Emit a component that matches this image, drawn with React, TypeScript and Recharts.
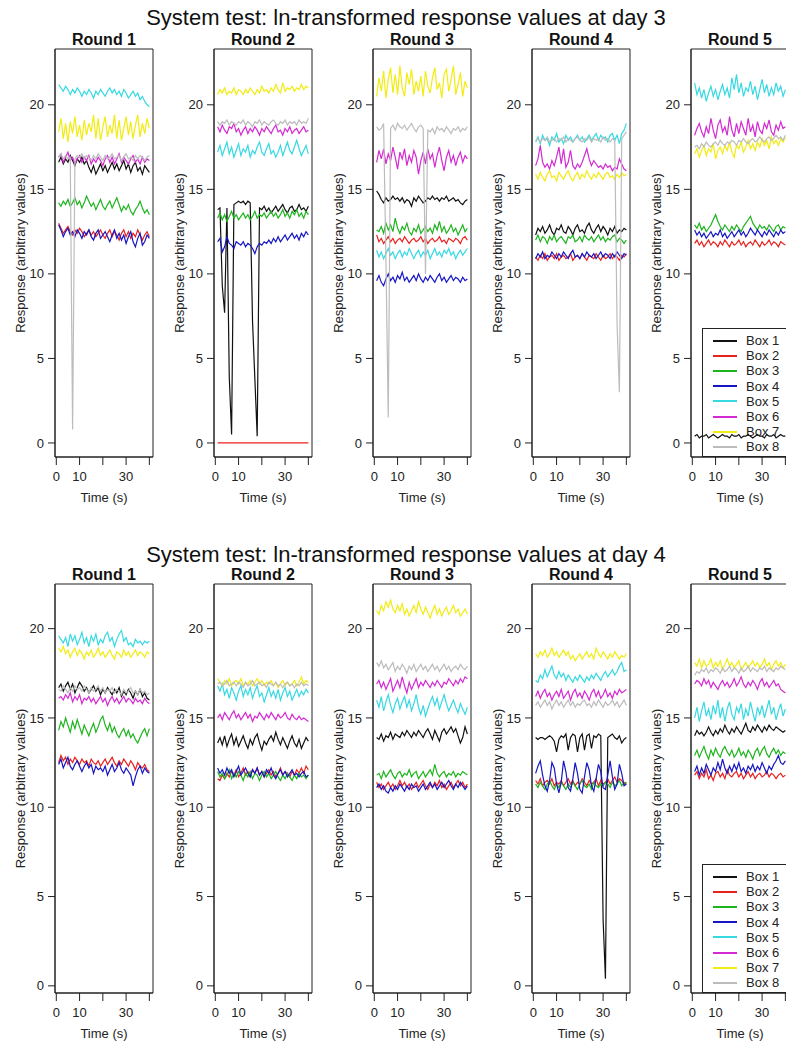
import { LineChart, Line, XAxis, YAxis, Legend, ReferenceArea } from 'recharts';

// time axis (s) and labels
const seconds = [1, 2, 3, 4, 5, 6, 7, 8, 9, 10, 11, 12, 13, 14, 15, 16, 17, 18, 19, 20, 21, 22, 23, 24, 25, 26, 27, 28, 29, 30, 31, 32, 33, 34, 35, 36, 37, 38, 39, 40];
const boxes = ['Box 1', 'Box 2', 'Box 3', 'Box 4', 'Box 5', 'Box 6', 'Box 7', 'Box 8'];
const rounds = ['Round 1', 'Round 2', 'Round 3', 'Round 4', 'Round 5'];
const timeTicks = [0, 10, 20, 30, 40];
const responseTicks = [0, 5, 10, 15, 20];

// day 3, one row per box
const day3Round1 = [
  [16.6, 16.9, 16.5, 16.8, 16.6, 17.0, 16.7, 16.4, 16.8, 16.6, 16.9, 16.5, 16.7, 16.3, 16.0, 16.4, 15.9, 16.2, 16.5, 16.1, 16.4, 16.0, 16.3, 16.6, 16.2, 16.5, 16.1, 16.4, 16.7, 16.2, 16.5, 16.0, 16.4, 16.6, 16.1, 16.3, 15.9, 16.4, 16.2, 16.0],
  [13.0, 12.7, 12.4, 12.6, 12.8, 12.5, 12.3, 12.6, 12.4, 12.7, 12.5, 12.2, 12.4, 12.6, 12.3, 12.5, 12.2, 12.4, 12.6, 12.3, 12.1, 12.4, 12.6, 12.2, 12.5, 12.3, 12.0, 12.4, 12.6, 12.2, 12.5, 12.1, 12.4, 12.2, 12.6, 12.3, 12.0, 12.3, 12.5, 12.2],
  [14.2, 14.0, 14.3, 14.1, 14.4, 14.0, 14.2, 14.5, 14.1, 14.3, 13.9, 14.2, 14.6, 14.3, 14.0, 14.2, 13.8, 14.1, 14.4, 14.0, 13.8, 14.1, 14.3, 13.9, 14.2, 14.5, 14.1, 13.7, 14.0, 13.8, 14.1, 13.7, 13.5, 13.8, 14.0, 14.3, 13.9, 13.6, 13.8, 13.5],
  [12.9, 12.6, 12.2, 12.5, 12.7, 12.3, 12.5, 12.2, 12.6, 12.4, 12.1, 12.5, 12.3, 12.6, 12.2, 12.0, 12.4, 12.6, 12.1, 12.3, 12.5, 12.2, 11.9, 12.3, 12.6, 12.1, 12.4, 12.0, 12.3, 11.8, 12.2, 12.5, 11.9, 11.6, 12.1, 12.4, 11.7, 11.9, 12.3, 12.1],
  [21.2, 21.0, 20.8, 21.1, 20.9, 20.6, 20.9, 20.7, 21.0, 20.8, 20.5, 20.8, 20.6, 20.9, 20.7, 20.4, 20.8, 20.6, 20.9, 20.7, 20.5, 20.8, 21.0, 20.7, 20.9, 20.6, 20.8, 20.5, 20.9, 20.7, 20.4, 20.6, 20.8, 20.5, 20.7, 20.3, 20.5, 20.2, 20.0, 19.9],
  [16.9, 17.1, 16.6, 16.9, 17.2, 16.7, 16.9, 16.5, 16.8, 17.0, 16.6, 16.9, 16.7, 17.0, 16.5, 16.8, 16.6, 16.9, 16.7, 16.4, 16.8, 17.0, 16.6, 16.9, 16.5, 16.8, 17.1, 16.6, 16.9, 16.7, 16.5, 16.8, 17.0, 16.6, 16.8, 16.5, 16.9, 16.6, 16.8, 16.7],
  [18.4, 19.2, 18.0, 18.9, 17.8, 19.0, 18.3, 19.3, 18.1, 18.8, 17.9, 19.1, 18.2, 18.9, 18.4, 19.4, 18.0, 19.2, 17.9, 18.7, 19.3, 18.1, 18.8, 18.3, 19.4, 18.0, 19.1, 17.9, 18.6, 19.3, 18.2, 19.0, 18.0, 18.8, 19.4, 18.1, 18.9, 18.3, 19.2, 18.6],
  [16.9, 17.1, 16.8, 17.0, 16.8, 16.9, 0.8, 16.8, 17.0, 16.9, 17.1, 16.8, 17.0, 16.9, 16.7, 17.0, 16.8, 17.1, 16.9, 16.7, 17.0, 16.8, 16.9, 17.1, 16.8, 16.9, 17.0, 16.7, 16.9, 17.1, 16.8, 16.9, 16.7, 17.0, 16.8, 17.0, 16.9, 16.7, 16.9, 17.0],
];
const day3Round2 = [
  [13.8, 13.9, 9.3, 7.7, 13.9, 3.9, 0.5, 14.1, 14.2, 14.3, 14.2, 14.3, 14.1, 14.3, 14.2, 7.2, 3.8, 0.4, 13.9, 13.8, 14.0, 13.7, 13.9, 13.6, 13.8, 14.0, 13.7, 13.9, 14.1, 13.8, 13.6, 13.9, 14.0, 13.7, 13.8, 14.1, 13.8, 13.9, 13.7, 14.0],
  [0, 0, 0, 0, 0, 0, 0, 0, 0, 0, 0, 0, 0, 0, 0, 0, 0, 0, 0, 0, 0, 0, 0, 0, 0, 0, 0, 0, 0, 0, 0, 0, 0, 0, 0, 0, 0, 0, 0, 0],
  [13.3, 13.6, 13.2, 13.5, 13.1, 13.4, 13.7, 13.3, 13.5, 13.2, 13.4, 13.6, 13.3, 13.5, 13.2, 13.4, 13.7, 13.3, 13.5, 13.4, 13.6, 13.3, 13.5, 13.7, 13.4, 13.6, 13.3, 13.5, 13.8, 13.4, 13.6, 13.3, 13.7, 13.5, 13.8, 13.4, 13.6, 13.3, 13.7, 13.5],
  [11.9, 12.1, 11.3, 11.6, 12.2, 11.8, 11.7, 11.5, 11.9, 11.8, 11.7, 11.9, 11.6, 11.8, 11.7, 11.5, 11.2, 11.6, 11.8, 11.7, 11.9, 11.8, 12.0, 11.8, 12.1, 11.9, 12.2, 11.9, 12.1, 12.3, 12.0, 12.2, 12.4, 12.1, 12.3, 12.0, 12.4, 12.2, 12.5, 12.3],
  [17.2, 17.6, 17.0, 17.4, 17.8, 17.1, 17.5, 16.9, 17.3, 17.7, 17.0, 17.4, 17.2, 17.6, 16.9, 17.3, 17.1, 17.5, 17.8, 17.2, 17.0, 17.4, 17.7, 17.1, 17.3, 16.9, 17.2, 17.6, 17.0, 17.4, 17.8, 17.3, 17.1, 17.5, 17.9, 17.4, 17.0, 17.3, 17.6, 17.1],
  [18.7, 18.4, 18.8, 18.5, 18.3, 18.7, 18.6, 18.9, 18.4, 18.6, 18.2, 18.5, 18.7, 18.3, 18.6, 18.4, 18.7, 18.5, 18.2, 18.6, 18.4, 18.7, 18.5, 18.3, 18.6, 18.8, 18.4, 18.5, 18.2, 18.6, 18.4, 18.7, 18.3, 18.5, 18.6, 18.3, 18.5, 18.7, 18.4, 18.5],
  [20.6, 20.9, 20.7, 21.0, 20.6, 20.8, 20.7, 21.0, 20.6, 20.9, 20.8, 20.6, 20.9, 20.7, 21.0, 20.8, 20.6, 20.9, 20.7, 21.1, 20.8, 20.9, 20.7, 21.0, 20.8, 21.2, 20.9, 20.7, 21.3, 20.8, 21.0, 20.9, 21.1, 20.8, 21.0, 20.9, 21.2, 20.9, 21.1, 21.0],
  [19.0, 18.8, 19.0, 18.9, 19.1, 18.8, 19.0, 18.9, 18.8, 19.0, 18.9, 19.1, 18.8, 19.0, 18.9, 18.7, 19.0, 18.9, 19.1, 18.8, 19.0, 18.9, 18.8, 19.0, 19.1, 18.9, 18.8, 19.0, 18.9, 19.1, 18.8, 19.0, 18.9, 19.0, 18.8, 19.1, 18.9, 19.0, 18.9, 19.2],
];
const day3Round3 = [
  [14.9, 14.7, 14.4, 14.2, 14.5, 14.3, 14.4, 14.6, 14.4, 14.5, 14.3, 14.5, 14.2, 14.4, 14.3, 14.0, 14.5, 14.3, 14.6, 14.4, 14.2, 14.3, 14.5, 14.4, 14.6, 14.4, 14.5, 14.3, 14.5, 14.4, 14.6, 14.3, 14.4, 14.5, 14.3, 14.4, 14.2, 14.1, 14.3, 14.4],
  [12.3, 11.9, 12.1, 11.8, 12.0, 12.2, 11.9, 12.1, 11.8, 12.0, 12.1, 11.9, 12.2, 12.0, 11.8, 12.0, 12.1, 11.9, 12.0, 12.2, 11.9, 12.1, 11.8, 12.0, 12.1, 11.9, 12.0, 12.2, 11.9, 12.0, 11.8, 12.1, 12.0, 11.9, 12.1, 12.0, 11.8, 12.1, 12.2, 12.0],
  [12.6, 12.5, 12.8, 12.4, 13.0, 12.6, 12.9, 12.5, 13.3, 12.7, 12.4, 12.8, 12.6, 13.0, 12.5, 12.3, 12.7, 12.5, 12.9, 12.4, 12.6, 12.8, 12.5, 12.7, 12.4, 12.9, 12.6, 13.1, 12.5, 12.8, 12.4, 12.6, 12.9, 12.5, 12.7, 12.3, 12.6, 12.9, 12.5, 12.7],
  [9.6, 9.9, 9.5, 9.3, 9.7, 10.0, 9.6, 9.8, 9.5, 9.9, 9.7, 10.1, 9.6, 9.8, 9.5, 9.7, 9.9, 9.6, 10.0, 9.7, 9.5, 9.8, 9.6, 9.9, 9.7, 9.5, 9.8, 10.0, 9.6, 9.8, 9.5, 9.7, 9.9, 9.6, 9.8, 9.7, 9.5, 9.8, 9.6, 9.7],
  [11.4, 11.0, 11.3, 10.9, 11.2, 11.5, 11.1, 11.3, 10.9, 11.2, 11.4, 11.0, 11.3, 11.1, 11.5, 11.2, 10.9, 11.2, 11.4, 11.0, 11.3, 11.1, 11.4, 10.9, 11.2, 11.5, 11.1, 11.3, 11.0, 11.4, 11.2, 11.5, 11.1, 11.3, 10.9, 11.2, 11.4, 11.1, 11.3, 11.5],
  [16.6, 17.3, 16.8, 17.4, 16.5, 17.1, 16.7, 17.5, 16.9, 16.2, 17.2, 16.8, 17.4, 16.4, 17.0, 16.6, 17.3, 16.9, 15.9, 16.7, 17.2, 16.5, 17.4, 16.8, 17.1, 16.3, 17.0, 17.5, 16.7, 16.1, 16.9, 17.3, 16.6, 17.0, 16.4, 16.9, 17.2, 16.6, 17.0, 16.8],
  [20.5, 21.6, 20.8, 22.0, 20.4, 21.5, 22.2, 20.7, 21.8, 20.6, 22.3, 21.0, 20.5, 21.9, 21.2, 22.1, 20.6, 21.4, 20.8, 21.7, 20.5, 22.0, 21.1, 20.7, 21.6, 22.2, 20.9, 21.3, 20.4, 21.8, 22.1, 20.8, 21.5, 22.3, 20.6, 21.2, 21.9, 20.5, 21.4, 21.0],
  [18.7, 18.5, 18.6, 18.9, 10.8, 1.5, 18.6, 18.8, 18.5, 18.9, 18.7, 18.6, 18.8, 18.5, 18.7, 18.9, 18.6, 18.4, 18.7, 18.8, 18.6, 10.0, 18.5, 18.4, 18.6, 18.3, 18.7, 18.5, 18.6, 18.4, 18.7, 18.5, 18.3, 18.6, 18.5, 18.7, 18.4, 18.6, 18.5, 18.7],
];
const day3Round4 = [
  [12.3, 12.7, 12.5, 12.8, 12.4, 12.6, 12.9, 12.5, 12.3, 12.7, 12.6, 12.9, 12.5, 12.4, 12.8, 12.6, 12.3, 12.7, 12.9, 12.5, 12.6, 12.4, 12.8, 13.0, 12.6, 12.4, 12.7, 12.9, 12.5, 12.8, 12.6, 12.3, 12.7, 12.5, 12.8, 12.4, 12.6, 12.5, 12.7, 12.6],
  [11.0, 10.8, 11.1, 10.9, 11.2, 10.8, 11.0, 11.1, 10.9, 11.2, 10.8, 11.0, 11.1, 10.9, 11.0, 11.2, 10.8, 11.0, 11.1, 10.9, 11.2, 11.0, 10.8, 11.1, 11.0, 10.9, 11.2, 11.0, 10.8, 11.1, 10.9, 11.0, 11.2, 10.9, 11.1, 11.0, 10.8, 11.1, 11.0, 11.2],
  [12.0, 12.3, 11.9, 12.2, 12.1, 11.8, 12.2, 12.0, 12.3, 11.9, 12.1, 12.2, 12.0, 11.8, 12.2, 12.1, 12.3, 11.9, 12.0, 12.2, 11.9, 12.3, 12.1, 12.0, 12.2, 11.9, 12.1, 12.3, 12.0, 12.2, 11.9, 12.1, 12.0, 12.2, 12.3, 11.9, 12.1, 12.0, 11.8, 12.0],
  [10.9, 11.2, 11.0, 11.3, 10.9, 11.1, 11.0, 11.3, 11.1, 10.9, 11.2, 11.0, 11.3, 11.1, 10.9, 11.2, 11.4, 11.0, 11.1, 10.9, 11.2, 11.0, 11.3, 11.1, 11.0, 11.2, 10.9, 11.1, 11.3, 11.0, 11.2, 11.1, 10.9, 11.2, 11.0, 11.3, 11.1, 10.9, 11.2, 11.1],
  [17.8, 18.1, 17.7, 18.2, 17.9, 18.0, 17.6, 18.1, 17.9, 18.3, 17.8, 18.0, 17.7, 18.2, 17.9, 18.1, 17.8, 18.0, 18.2, 17.9, 18.1, 17.8, 18.0, 18.2, 17.9, 18.1, 18.3, 17.9, 18.2, 18.0, 18.1, 17.8, 18.2, 18.3, 17.9, 18.2, 17.7, 18.3, 18.5, 18.9],
  [16.4, 16.8, 17.6, 16.6, 16.3, 16.5, 16.2, 16.7, 16.4, 16.9, 17.5, 16.5, 17.4, 16.3, 16.6, 17.3, 16.4, 16.2, 16.5, 16.3, 16.6, 17.0, 17.4, 16.8, 16.4, 16.7, 16.5, 16.3, 16.4, 16.2, 16.5, 16.3, 16.4, 16.1, 16.3, 16.2, 16.8, 16.5, 16.2, 16.1],
  [15.9, 15.6, 16.0, 15.7, 15.5, 15.9, 16.1, 15.7, 15.8, 15.5, 16.0, 15.8, 15.6, 15.9, 16.1, 15.7, 15.5, 15.8, 16.0, 15.6, 15.9, 15.7, 16.1, 15.8, 15.6, 15.9, 15.7, 16.0, 15.8, 15.6, 15.9, 16.0, 15.7, 15.8, 15.6, 15.9, 15.7, 16.0, 15.8, 15.9],
  [17.9, 18.0, 17.8, 18.0, 17.9, 18.1, 17.8, 17.9, 18.0, 17.8, 18.0, 17.9, 18.1, 17.8, 18.0, 17.9, 17.8, 18.0, 18.1, 17.9, 17.8, 18.0, 17.9, 18.1, 17.8, 18.0, 17.9, 18.0, 17.8, 18.1, 17.9, 18.0, 17.8, 18.0, 17.9, 7.0, 3.0, 18.0, 18.2, 18.4],
];
const day3Round5 = [
  [0.4, 0.5, 0.3, 0.4, 0.4, 0.5, 0.3, 0.4, 0.5, 0.4, 0.3, 0.4, 0.5, 0.4, 0.4, 0.3, 0.5, 0.4, 0.4, 0.5, 0.3, 0.4, 0.4, 0.5, 0.4, 0.3, 0.4, 0.5, 0.4, 0.4, 0.3, 0.5, 0.4, 0.4, 0.5, 0.3, 0.4, 0.5, 0.4, 0.4],
  [11.8, 12.0, 11.7, 11.9, 11.6, 11.8, 12.0, 11.7, 11.9, 11.8, 11.6, 11.9, 11.7, 12.0, 11.8, 11.6, 11.9, 11.7, 11.8, 12.0, 11.7, 11.9, 11.6, 11.8, 11.9, 11.7, 12.0, 11.8, 11.6, 11.9, 11.7, 11.8, 12.0, 11.7, 11.9, 11.8, 11.6, 11.9, 11.8, 11.7],
  [12.9, 12.7, 13.0, 12.6, 12.8, 12.5, 12.7, 12.9, 13.2, 13.5, 13.1, 12.8, 12.6, 12.9, 12.7, 12.5, 12.8, 12.6, 12.9, 12.7, 12.5, 12.8, 13.0, 13.2, 13.4, 13.0, 12.8, 12.6, 12.9, 12.7, 12.8, 12.6, 12.9, 12.7, 12.5, 12.8, 12.9, 12.6, 12.8, 12.7],
  [12.6, 12.3, 12.5, 12.2, 12.4, 12.1, 12.3, 12.5, 12.2, 12.4, 12.3, 12.6, 12.2, 12.4, 12.1, 12.3, 12.5, 12.2, 12.4, 12.6, 12.3, 12.5, 12.2, 12.4, 12.7, 12.5, 12.3, 12.6, 12.4, 12.2, 12.5, 12.3, 12.6, 12.4, 12.2, 12.5, 12.3, 12.6, 12.4, 12.5],
  [21.3, 20.6, 21.0, 20.4, 20.9, 20.2, 20.7, 21.1, 20.5, 20.9, 20.3, 20.8, 21.2, 20.6, 21.0, 20.4, 21.6, 20.9, 21.8, 20.7, 21.3, 20.5, 21.0, 20.8, 21.4, 20.6, 21.1, 20.3, 20.9, 21.5, 20.7, 21.2, 20.5, 21.0, 20.6, 21.3, 20.8, 21.1, 20.5, 20.9],
  [18.2, 18.6, 18.9, 18.4, 18.1, 18.7, 18.3, 19.2, 18.5, 18.0, 18.8, 19.1, 18.4, 18.7, 18.2, 19.3, 18.5, 18.1, 18.9, 18.3, 19.0, 18.6, 18.2, 19.2, 18.4, 18.8, 18.1, 19.0, 18.5, 18.3, 18.9, 18.6, 19.1, 18.4, 18.2, 18.8, 18.5, 19.0, 18.6, 18.7],
  [17.1, 17.4, 16.9, 17.3, 17.6, 17.0, 17.4, 17.2, 17.7, 16.8, 17.3, 17.5, 17.1, 17.6, 17.3, 17.8, 17.2, 16.9, 17.6, 17.4, 17.8, 17.2, 17.5, 17.9, 17.4, 17.7, 17.3, 17.8, 17.5, 18.0, 17.6, 17.9, 17.4, 18.1, 17.7, 17.9, 17.6, 18.0, 17.8, 18.1],
  [17.5, 17.6, 17.4, 17.7, 17.5, 17.8, 17.6, 17.5, 17.7, 17.8, 17.6, 17.9, 17.7, 17.6, 17.8, 17.7, 17.9, 17.8, 17.6, 17.9, 17.8, 18.0, 17.8, 17.7, 17.9, 18.0, 17.8, 17.9, 18.1, 17.9, 17.8, 18.0, 18.1, 17.9, 18.0, 18.2, 18.0, 18.1, 17.9, 18.2],
];

// day 4, one row per box
const day4Round1 = [
  [16.7, 16.9, 16.5, 16.8, 17.0, 16.6, 16.9, 16.4, 16.7, 17.0, 16.8, 16.5, 16.7, 16.4, 16.6, 16.8, 16.5, 16.7, 16.3, 16.6, 16.4, 16.7, 16.5, 16.3, 16.6, 16.4, 16.7, 16.2, 16.5, 16.3, 16.6, 16.4, 16.1, 16.5, 16.3, 16.6, 16.2, 16.4, 16.1, 16.0],
  [12.5, 12.9, 12.6, 12.8, 12.4, 12.7, 12.5, 12.8, 12.6, 12.4, 12.7, 12.5, 12.6, 12.3, 12.7, 12.5, 12.4, 12.6, 12.3, 12.5, 12.7, 12.4, 12.6, 12.8, 12.5, 12.3, 12.6, 12.4, 12.7, 12.5, 12.3, 12.6, 12.4, 12.1, 12.5, 12.3, 12.2, 12.4, 12.1, 12.0],
  [14.3, 14.8, 14.5, 15.0, 14.6, 14.2, 14.8, 14.4, 14.9, 14.5, 14.1, 14.6, 14.3, 14.0, 14.4, 14.7, 14.2, 14.5, 14.9, 15.1, 14.6, 14.3, 14.7, 14.2, 14.5, 14.1, 13.9, 14.2, 14.4, 14.0, 14.3, 13.9, 14.1, 13.8, 13.6, 13.9, 14.2, 14.4, 14.0, 14.4],
  [12.4, 12.7, 12.2, 12.5, 12.8, 12.3, 12.1, 12.4, 12.6, 12.3, 12.0, 12.3, 12.5, 12.2, 12.4, 11.9, 12.3, 12.1, 12.2, 12.0, 12.3, 11.8, 12.1, 12.4, 12.0, 12.2, 12.5, 12.1, 11.9, 12.2, 12.0, 11.8, 11.2, 11.7, 12.1, 12.3, 11.9, 12.2, 12.0, 11.9],
  [19.6, 19.4, 19.2, 19.5, 19.0, 19.7, 19.3, 19.6, 19.1, 19.4, 19.8, 19.2, 19.5, 19.0, 19.6, 19.3, 19.7, 19.1, 19.4, 19.2, 19.6, 19.8, 19.3, 19.5, 19.0, 19.4, 19.7, 19.9, 19.3, 19.5, 19.1, 19.2, 19.0, 19.4, 19.2, 19.3, 19.1, 19.3, 19.2, 19.3],
  [16.1, 16.2, 16.0, 16.3, 16.1, 16.4, 15.9, 16.2, 16.0, 16.3, 15.8, 16.1, 16.0, 16.2, 15.9, 16.1, 15.8, 16.0, 16.2, 15.9, 16.1, 15.7, 16.0, 16.2, 15.9, 16.1, 15.8, 16.0, 16.2, 15.9, 16.1, 16.0, 15.8, 16.1, 15.9, 16.0, 15.8, 16.1, 15.9, 15.8],
  [18.9, 18.7, 19.0, 18.6, 18.8, 18.4, 18.7, 18.9, 18.5, 18.8, 18.6, 18.3, 18.7, 18.5, 18.8, 18.4, 18.6, 18.9, 18.5, 18.7, 18.4, 18.6, 18.8, 18.5, 18.3, 18.7, 18.6, 18.4, 18.8, 18.5, 18.7, 18.4, 18.6, 18.8, 18.5, 18.7, 18.6, 18.4, 18.7, 18.6],
  [16.6, 16.5, 16.8, 16.6, 16.4, 16.7, 16.5, 16.8, 16.6, 16.7, 16.5, 16.8, 16.6, 16.4, 16.7, 16.5, 16.6, 16.8, 16.5, 16.7, 16.4, 16.6, 16.5, 16.7, 16.4, 16.6, 16.5, 16.3, 16.6, 16.4, 16.5, 16.7, 16.4, 16.5, 16.3, 16.6, 16.4, 16.5, 16.3, 16.4],
];
const day4Round2 = [
  [13.6, 13.9, 13.5, 14.0, 13.4, 13.8, 14.1, 13.5, 13.9, 13.4, 13.7, 14.0, 13.6, 13.3, 13.8, 13.5, 13.9, 14.1, 13.6, 13.2, 13.7, 13.5, 13.8, 14.0, 13.7, 14.2, 13.8, 13.5, 13.9, 13.6, 13.3, 13.7, 14.0, 13.6, 13.4, 13.8, 13.3, 13.6, 13.9, 13.7],
  [11.6, 11.5, 11.8, 11.6, 11.9, 11.7, 12.0, 11.8, 12.1, 11.7, 11.9, 12.2, 11.8, 12.0, 11.7, 12.1, 11.9, 12.2, 11.8, 12.0, 11.7, 11.9, 12.1, 11.8, 12.0, 11.7, 11.9, 12.2, 11.8, 12.0, 11.9, 11.7, 12.0, 11.8, 12.1, 11.9, 12.2, 11.9, 12.3, 12.1],
  [12.0, 11.7, 11.9, 11.6, 11.8, 12.1, 11.6, 11.9, 11.7, 12.0, 11.8, 11.5, 11.9, 11.7, 12.0, 11.6, 11.9, 11.8, 11.5, 11.8, 12.0, 11.7, 11.9, 11.6, 11.8, 12.0, 11.7, 11.5, 11.8, 11.6, 11.9, 11.7, 11.5, 11.8, 11.6, 11.9, 11.7, 11.8, 11.6, 11.8],
  [12.2, 11.9, 12.1, 11.8, 12.2, 11.9, 12.1, 11.7, 12.0, 12.3, 11.8, 12.0, 12.2, 11.9, 11.7, 12.1, 11.9, 12.2, 11.8, 12.0, 11.7, 12.1, 11.9, 12.2, 11.8, 11.6, 11.9, 12.1, 11.8, 12.0, 11.7, 11.9, 12.1, 11.8, 11.9, 11.7, 11.9, 12.0, 11.7, 11.8],
  [16.8, 16.5, 16.9, 16.3, 16.6, 16.1, 16.7, 16.4, 16.0, 16.5, 16.8, 16.2, 16.6, 16.3, 16.7, 16.1, 16.5, 16.8, 16.2, 16.4, 15.9, 16.3, 16.7, 16.2, 16.5, 16.1, 16.6, 16.0, 16.4, 16.7, 16.2, 16.5, 16.0, 16.3, 16.6, 16.2, 16.5, 16.3, 16.6, 16.4],
  [15.0, 15.2, 14.9, 15.3, 15.1, 14.9, 15.2, 15.4, 15.0, 15.2, 14.9, 15.1, 15.3, 15.0, 15.2, 14.8, 15.1, 15.0, 15.3, 15.1, 14.9, 15.2, 15.0, 15.3, 15.1, 14.9, 15.2, 15.0, 15.1, 15.3, 15.0, 14.9, 15.2, 15.0, 14.9, 15.1, 14.9, 15.0, 14.9, 14.8],
  [17.2, 17.0, 16.8, 17.1, 16.9, 17.2, 16.8, 17.0, 17.1, 16.9, 17.2, 16.8, 17.0, 16.9, 17.1, 16.8, 17.0, 17.2, 16.9, 17.1, 16.8, 17.0, 16.9, 17.1, 16.8, 17.0, 16.7, 16.9, 17.1, 16.8, 17.0, 16.8, 16.9, 17.1, 16.8, 17.0, 17.3, 16.9, 17.1, 17.0],
  [16.9, 17.0, 16.8, 16.9, 17.1, 16.8, 16.9, 17.0, 16.8, 17.0, 16.9, 16.7, 17.0, 16.8, 16.9, 17.1, 16.8, 16.9, 17.0, 16.8, 16.9, 16.7, 17.0, 16.9, 16.8, 17.0, 16.8, 16.9, 16.7, 16.9, 17.0, 16.8, 16.9, 16.7, 16.9, 16.8, 17.0, 16.8, 16.9, 16.8],
];
const day4Round3 = [
  [13.9, 13.8, 14.1, 13.7, 14.0, 13.9, 14.2, 13.8, 14.1, 14.0, 13.9, 14.2, 14.0, 14.3, 14.1, 13.9, 14.2, 14.0, 14.3, 14.1, 13.9, 14.2, 14.4, 14.1, 13.8, 14.3, 14.0, 13.7, 14.2, 14.4, 14.1, 14.3, 14.5, 14.2, 14.4, 14.0, 13.6, 13.9, 14.5, 14.1],
  [11.4, 11.1, 11.3, 11.0, 11.2, 11.4, 11.1, 11.3, 11.0, 11.2, 11.5, 11.2, 11.4, 11.1, 11.3, 11.0, 11.2, 11.4, 11.1, 11.3, 11.5, 11.2, 11.0, 11.3, 11.1, 11.4, 11.2, 11.5, 11.1, 11.3, 11.0, 11.2, 11.4, 11.1, 11.3, 11.5, 11.2, 11.4, 11.1, 11.3],
  [11.8, 11.9, 11.6, 12.0, 11.7, 11.9, 12.1, 11.8, 11.6, 11.9, 12.0, 11.7, 11.9, 11.8, 12.1, 11.7, 11.9, 12.0, 11.6, 11.8, 12.0, 11.7, 11.9, 12.1, 11.8, 12.4, 11.9, 11.7, 11.9, 12.0, 11.7, 11.9, 11.8, 12.0, 11.7, 11.9, 11.8, 12.0, 11.9, 11.8],
  [11.1, 11.3, 11.0, 11.2, 10.9, 10.8, 11.1, 10.9, 11.2, 11.0, 11.3, 11.1, 10.9, 11.2, 11.0, 11.3, 11.1, 11.2, 10.9, 11.1, 11.3, 11.0, 11.2, 11.4, 11.1, 11.3, 11.0, 11.2, 11.4, 11.1, 11.3, 11.5, 11.2, 11.0, 11.3, 11.1, 11.4, 11.2, 11.0, 11.2],
  [16.0, 15.6, 16.2, 15.4, 15.9, 16.3, 15.7, 15.3, 15.8, 16.1, 15.5, 15.9, 16.2, 15.6, 16.0, 15.4, 15.8, 16.3, 15.6, 15.2, 15.7, 15.1, 15.5, 15.9, 16.2, 15.7, 16.1, 15.5, 15.9, 16.3, 15.8, 15.4, 15.7, 16.0, 15.6, 15.3, 15.8, 15.5, 15.2, 15.6],
  [16.9, 17.1, 16.7, 17.0, 16.6, 16.9, 17.2, 16.5, 16.8, 17.1, 16.7, 17.3, 16.8, 16.4, 17.0, 16.6, 16.9, 17.2, 16.7, 17.0, 16.8, 17.1, 16.9, 16.7, 17.0, 16.8, 17.1, 16.9, 16.7, 17.0, 16.9, 17.2, 17.0, 16.8, 17.1, 16.9, 17.2, 17.0, 17.3, 17.2],
  [21.0, 20.8, 21.3, 21.0, 21.5, 21.2, 21.6, 21.1, 20.9, 21.3, 21.0, 21.4, 20.8, 21.1, 20.7, 21.0, 21.3, 20.9, 21.5, 21.1, 20.8, 21.2, 20.9, 20.6, 21.0, 21.3, 20.8, 21.1, 20.7, 21.0, 21.2, 20.8, 21.0, 21.3, 20.9, 21.1, 20.7, 20.9, 21.1, 20.8],
  [18.1, 17.9, 18.2, 17.8, 18.0, 17.7, 17.9, 18.1, 17.6, 17.9, 17.7, 18.0, 17.8, 17.5, 17.9, 17.7, 18.0, 17.6, 17.8, 18.0, 17.7, 17.9, 17.6, 17.8, 18.0, 17.7, 17.9, 17.6, 17.8, 18.0, 17.7, 17.9, 17.6, 17.8, 17.9, 17.7, 18.0, 17.8, 17.7, 17.9],
];
const day4Round4 = [
  [13.9, 13.8, 13.9, 13.9, 13.8, 13.9, 14.0, 13.9, 13.7, 13.1, 13.8, 14.0, 13.9, 14.1, 13.2, 13.9, 14.1, 14.0, 13.1, 13.9, 14.1, 13.2, 14.0, 14.1, 13.3, 14.0, 13.9, 14.1, 14.0, 3.7, 0.4, 13.9, 14.0, 14.1, 13.9, 13.8, 14.0, 13.6, 13.8, 13.9],
  [11.5, 11.3, 11.6, 11.2, 11.4, 11.5, 11.3, 11.6, 11.2, 11.4, 11.3, 11.5, 11.2, 11.4, 11.6, 11.3, 11.5, 11.2, 11.4, 11.3, 11.6, 11.4, 11.2, 11.5, 11.3, 11.4, 11.6, 11.2, 11.5, 11.3, 11.4, 11.6, 11.3, 11.5, 11.7, 11.4, 11.6, 11.5, 11.3, 11.4],
  [11.3, 11.1, 11.4, 11.2, 11.0, 11.3, 11.5, 11.2, 11.0, 11.3, 11.1, 11.4, 11.2, 11.0, 11.3, 11.1, 11.4, 11.2, 11.0, 11.3, 11.5, 11.2, 11.1, 11.3, 11.0, 11.4, 11.2, 11.1, 11.3, 11.2, 11.4, 11.3, 11.1, 11.4, 11.2, 11.3, 11.5, 11.2, 11.4, 11.3],
  [11.9, 12.3, 12.6, 11.8, 11.2, 10.9, 11.5, 12.5, 12.2, 11.3, 10.8, 11.4, 12.6, 12.0, 11.1, 10.9, 11.6, 12.5, 11.9, 11.0, 10.8, 11.7, 12.5, 12.1, 11.2, 10.9, 11.6, 12.4, 12.0, 11.1, 11.0, 11.8, 12.6, 11.7, 11.0, 11.3, 12.4, 11.9, 11.2, 11.3],
  [17.1, 17.0, 17.4, 17.2, 17.7, 17.3, 17.6, 17.9, 17.4, 17.2, 17.6, 17.3, 17.5, 17.1, 17.4, 17.2, 17.0, 17.3, 17.1, 17.4, 17.2, 17.0, 17.3, 17.1, 17.4, 17.2, 17.5, 17.3, 17.1, 17.4, 17.6, 17.3, 17.5, 17.7, 17.4, 17.6, 17.9, 18.1, 17.6, 17.7],
  [16.2, 16.5, 16.1, 16.4, 16.6, 16.2, 16.4, 16.0, 16.3, 16.5, 16.2, 16.6, 16.1, 16.3, 16.5, 16.0, 16.4, 16.6, 16.2, 16.4, 16.1, 16.5, 16.3, 16.0, 16.4, 16.6, 16.2, 16.5, 16.1, 16.3, 16.6, 16.2, 16.4, 16.1, 16.5, 16.3, 16.6, 16.4, 16.5, 16.6],
  [18.6, 18.4, 18.7, 18.5, 18.8, 18.4, 18.6, 18.9, 18.5, 18.7, 18.4, 18.6, 18.8, 18.5, 18.7, 18.3, 18.5, 18.2, 18.4, 18.6, 18.3, 18.5, 18.7, 18.4, 18.6, 18.3, 18.9, 18.6, 18.4, 18.7, 18.5, 18.3, 18.6, 18.4, 18.7, 18.5, 18.3, 18.5, 18.4, 18.6],
  [15.7, 15.9, 15.6, 15.8, 16.0, 15.7, 15.9, 15.5, 15.8, 16.0, 15.7, 15.9, 15.6, 15.8, 16.0, 15.7, 15.9, 15.6, 15.8, 15.7, 15.9, 16.0, 15.7, 15.8, 15.6, 15.9, 15.7, 16.0, 15.8, 15.6, 15.9, 15.7, 15.8, 16.0, 15.7, 15.9, 15.6, 15.8, 16.0, 15.7],
];
const day4Round5 = [
  [14.0, 14.3, 14.1, 14.2, 14.0, 14.2, 14.5, 14.2, 14.0, 14.3, 14.1, 14.4, 14.2, 14.6, 14.3, 14.1, 14.4, 14.2, 14.5, 14.3, 14.1, 14.4, 14.7, 14.3, 14.2, 14.5, 14.3, 14.6, 14.4, 14.2, 14.5, 14.3, 14.6, 14.4, 14.3, 14.5, 14.4, 14.3, 14.2, 14.3],
  [11.8, 12.0, 11.6, 11.9, 11.7, 12.1, 11.6, 11.8, 11.5, 11.9, 12.0, 11.7, 11.9, 11.6, 12.1, 11.8, 11.7, 11.9, 12.0, 11.7, 11.9, 11.6, 11.8, 12.0, 11.7, 11.9, 11.6, 11.8, 11.9, 11.7, 11.8, 12.0, 11.7, 11.9, 11.8, 11.6, 11.8, 11.9, 11.7, 11.8],
  [12.9, 13.2, 12.8, 13.1, 13.4, 13.0, 12.7, 13.2, 12.9, 13.3, 13.0, 12.8, 13.2, 13.4, 13.1, 12.9, 13.2, 12.8, 13.0, 13.3, 12.9, 13.1, 12.8, 13.2, 13.0, 12.7, 13.1, 13.3, 12.9, 13.2, 13.4, 13.0, 12.8, 13.1, 13.3, 13.0, 13.2, 12.9, 13.1, 13.0],
  [12.0, 12.3, 11.8, 12.2, 11.9, 12.4, 12.1, 11.8, 12.2, 12.0, 12.5, 12.1, 12.7, 12.2, 11.9, 12.3, 12.0, 12.4, 12.1, 12.5, 12.0, 12.2, 11.9, 12.3, 12.1, 12.4, 12.0, 12.3, 12.1, 12.5, 12.2, 11.9, 12.3, 12.1, 12.4, 12.6, 12.9, 12.5, 12.4, 12.6],
  [15.0, 15.6, 14.8, 15.4, 15.9, 15.1, 15.5, 14.9, 15.7, 15.2, 16.0, 15.0, 15.6, 14.8, 15.5, 15.9, 15.2, 14.9, 15.6, 15.3, 15.8, 14.9, 15.5, 15.1, 15.9, 15.3, 14.8, 15.6, 15.2, 15.7, 15.0, 15.5, 16.0, 15.2, 15.6, 14.9, 15.4, 15.8, 15.1, 15.5],
  [16.9, 17.1, 17.0, 16.8, 17.2, 16.9, 17.1, 16.7, 17.0, 16.8, 16.6, 16.9, 17.1, 16.8, 17.0, 16.7, 16.9, 17.2, 16.8, 17.0, 17.3, 16.9, 16.7, 17.0, 16.8, 17.1, 16.9, 16.6, 17.0, 17.2, 16.8, 17.0, 16.7, 16.9, 17.1, 16.8, 16.9, 16.6, 16.5, 16.4],
  [18.1, 17.9, 18.3, 17.8, 18.2, 17.9, 18.0, 18.3, 17.8, 18.1, 17.9, 18.2, 17.7, 18.0, 18.3, 17.9, 18.1, 17.8, 18.0, 18.2, 17.7, 17.9, 18.1, 17.8, 18.0, 18.2, 17.9, 18.1, 17.8, 18.0, 18.3, 17.9, 18.1, 17.7, 18.0, 18.2, 17.9, 18.1, 17.8, 18.0],
  [17.4, 17.6, 17.5, 17.7, 17.6, 17.8, 17.5, 17.7, 17.6, 17.8, 17.7, 17.5, 17.8, 17.6, 17.7, 17.9, 17.6, 17.8, 17.7, 17.5, 17.8, 17.6, 17.7, 17.9, 17.6, 17.8, 17.7, 17.6, 17.8, 17.7, 17.9, 17.6, 17.8, 17.7, 17.6, 17.8, 17.7, 17.9, 17.8, 17.7],
];

const day3Panels = [day3Round1, day3Round2, day3Round3, day3Round4, day3Round5];
const day4Panels = [day4Round1, day4Round2, day4Round3, day4Round4, day4Round5];

// R's default palette, one colour per box
const boxColors = ['#111111', '#e8221e', '#1db41d', '#1616c4', '#36d9e2', '#d42ad2', '#f2ec12', '#bcbcbc'];

const FONT = '"Liberation Sans", Arial, Helvetica, sans-serif';
const INK = '#222222';
const AXIS_W = 55;
const PLOT_W = 98;
const RIGHT_PAD = 6;
const COL_STEP = 159;
const X_AXIS_H = 50;
const TIME_DOMAIN: [number, number] = [-0.56, 41.56];

function ResponseLabel(props: any) {
  const vb = props.viewBox || { x: 0, y: 0, width: AXIS_W, height: 400 };
  const cx = vb.x + 20;
  const cy = vb.y + vb.height / 2;
  return (
    <text
      x={cx}
      y={cy}
      transform={`rotate(-90 ${cx} ${cy})`}
      textAnchor="middle"
      dominantBaseline="central"
      fill={INK}
      fontSize={13}
      fontFamily={FONT}
    >
      Response (arbitrary values)
    </text>
  );
}

function BoxLegend({ payload }: any) {
  return (
    <div
      style={{
        boxSizing: 'border-box',
        width: '100%',
        height: '100%',
        border: `1px solid ${INK}`,
        paddingTop: 4,
        fontFamily: FONT,
        fontSize: 13,
        color: INK,
      }}
    >
      {(payload || []).map((entry: any) => (
        <div key={entry.value} style={{ display: 'flex', alignItems: 'center', height: 15.2 }}>
          <span style={{ width: 24, marginLeft: 10, marginRight: 9, borderTop: `2px solid ${entry.color}` }} />
          <span style={{ lineHeight: '15px' }}>{entry.value}</span>
        </div>
      ))}
    </div>
  );
}

type PanelProps = {
  series: number[][];
  title: string;
  col: number;
  boxTop: number;
  boxBottom: number;
  yDomain: [number, number];
  withLegend: boolean;
};

function Panel({ series, title, col, boxTop, boxBottom, yDomain, withLegend }: PanelProps) {
  const rows = seconds.map((t, i) => {
    const row: Record<string, number> = { t };
    series.forEach((s, j) => {
      row[boxes[j]] = s[i];
    });
    return row;
  });
  const left = col * COL_STEP;
  const plotH = boxBottom - boxTop;
  const legendTop = plotH - 127;

  return (
    <>
      <div
        style={{
          position: 'absolute',
          left: left + AXIS_W,
          top: boxTop - 18,
          width: PLOT_W,
          textAlign: 'center',
          fontFamily: FONT,
          fontWeight: 'bold',
          fontSize: 16,
          lineHeight: '18px',
          color: '#111',
        }}
      >
        {title}
      </div>
      <div style={{ position: 'absolute', left, top: boxTop - 2 }}>
        <LineChart
          width={AXIS_W + PLOT_W + RIGHT_PAD}
          height={plotH + 2 + X_AXIS_H}
          data={rows}
          margin={{ top: 2, right: RIGHT_PAD, bottom: 0, left: 0 }}
        >
          <XAxis
            dataKey="t"
            type="number"
            domain={TIME_DOMAIN}
            allowDataOverflow
            ticks={timeTicks}
            interval={0}
            tickFormatter={(v: number) => (v === 20 || v === 40 ? '' : String(v))}
            tickSize={8}
            tickMargin={7}
            height={X_AXIS_H}
            axisLine={{ stroke: INK }}
            tickLine={{ stroke: INK }}
            tick={{ fill: INK, fontSize: 13, fontFamily: FONT }}
            label={{ value: 'Time (s)', position: 'insideBottom', offset: 5, fill: INK, fontSize: 13, fontFamily: FONT }}
          />
          <YAxis
            type="number"
            domain={yDomain}
            allowDataOverflow
            ticks={responseTicks}
            interval={0}
            width={AXIS_W}
            tickSize={7}
            tickMargin={4}
            axisLine={{ stroke: INK }}
            tickLine={{ stroke: INK }}
            tick={{ fill: INK, fontSize: 13, fontFamily: FONT }}
            label={<ResponseLabel />}
          />
          {/* frame around the plotting region */}
          <ReferenceArea
            x1={TIME_DOMAIN[0]}
            x2={TIME_DOMAIN[1]}
            y1={yDomain[0]}
            y2={yDomain[1]}
            ifOverflow="visible"
            fill="none"
            fillOpacity={0}
            stroke={INK}
            strokeWidth={1}
          />
          {series.map((_, j) => (
            <Line
              key={boxes[j]}
              type="linear"
              dataKey={boxes[j]}
              name={boxes[j]}
              stroke={boxColors[j]}
              strokeWidth={1.2}
              dot={false}
              isAnimationActive={false}
            />
          ))}
          {withLegend && (
            <Legend
              layout="vertical"
              align="center"
              verticalAlign="middle"
              content={<BoxLegend />}
              wrapperStyle={{ left: 66, top: legendTop, width: 100, height: plotH + 2 - legendTop }}
            />
          )}
        </LineChart>
      </div>
    </>
  );
}

function DayBlock({ day, panels, titleTop, boxTop, boxBottom, yDomain }: {
  day: number;
  panels: number[][][];
  titleTop: number;
  boxTop: number;
  boxBottom: number;
  yDomain: [number, number];
}) {
  return (
    <>
      <div
        style={{
          position: 'absolute',
          left: 0,
          top: titleTop,
          width: 812,
          textAlign: 'center',
          fontFamily: FONT,
          fontSize: 22,
          lineHeight: '24px',
          color: '#111',
        }}
      >
        System test: ln-transformed response values at day {day}
      </div>
      {panels.map((series, col) => (
        <Panel
          key={rounds[col]}
          series={series}
          title={rounds[col]}
          col={col}
          boxTop={boxTop}
          boxBottom={boxBottom}
          yDomain={yDomain}
          withLegend={col === panels.length - 1}
        />
      ))}
    </>
  );
}

export default function App() {
  return (
    <div
      style={{
        position: 'absolute',
        left: 0,
        top: 0,
        width: 786,
        height: 1046,
        overflow: 'hidden',
        background: '#ffffff',
      }}
    >
      <DayBlock day={3} panels={day3Panels} titleTop={6} boxTop={49} boxBottom={457} yDomain={[-0.83, 23.3]} />
      <DayBlock day={4} panels={day4Panels} titleTop={543} boxTop={584} boxBottom={993} yDomain={[-0.4, 22.5]} />
    </div>
  );
}
